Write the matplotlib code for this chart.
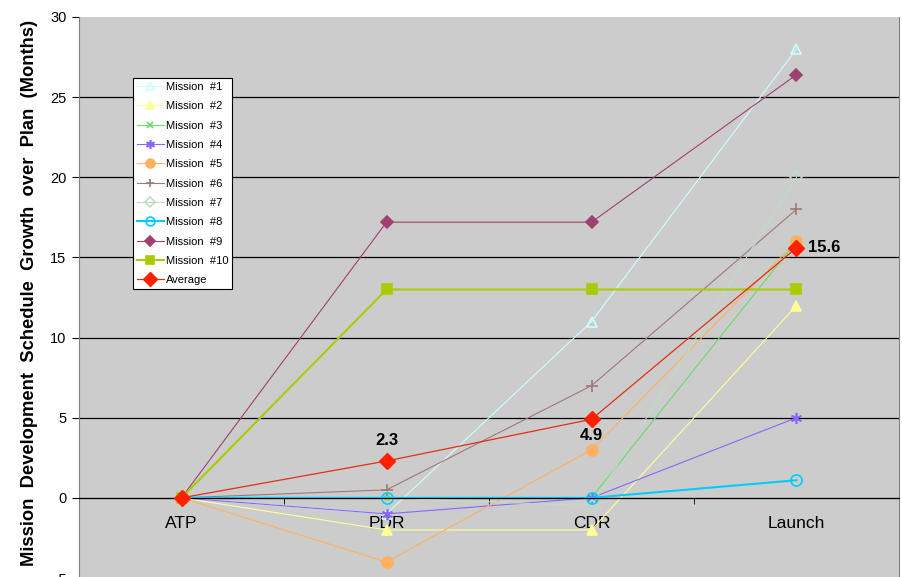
import matplotlib.pyplot as plt
import numpy as np

plt.rcParams['font.family'] = ['Liberation Sans', 'DejaVu Sans']

# categories and series values (months of schedule growth)
milestones = ['ATP', 'PDR', 'CDR', 'Launch']
m1 = [0, -1, 11, 28]
m2 = [0, -2, -2, 12]
m3 = [0, 0, 0, 16]
m4 = [0, -1, 0, 5]
m5 = [0, -4, 3, 16]
m6 = [0, 0.5, 7, 18]
m7 = [0, 0, -0.5, 20]
m8 = [0, 0, 0, 1.1]
m9 = [0, 17.2, 17.2, 26.4]
m10 = [0, 13, 13, 13]
average = [0, 2.3, 4.9, 15.6]
y_ticks = [-5, 0, 5, 10, 15, 20, 25, 30]

fig = plt.figure(figsize=(9.02, 5.77), dpi=100)
ax = fig.add_axes([79 / 902, -1 / 577, 820 / 902, 561 / 577])
ax.set_facecolor('#CCCCCC')

x = np.arange(len(milestones))

# (values, label, color, marker, markersize, filled, linewidth)
series = [
    (m1, 'Mission  #1', '#CCFFFF', '^', 7, False, 0.8),
    (m2, 'Mission  #2', '#FFFF99', '^', 7, True, 0.8),
    (m3, 'Mission  #3', '#66DD66', 'x', 6, True, 0.8),
    (m4, 'Mission  #4', '#8866FF', (6, 2, 0), 8, True, 0.8),
    (m5, 'Mission  #5', '#FFB060', 'o', 8, True, 0.8),
    (m6, 'Mission  #6', '#A07878', '+', 8, True, 0.8),
    (m7, 'Mission  #7', '#C0DCC0', 'D', 6, False, 0.8),
    (m8, 'Mission  #8', '#00CCFF', 'o', 8, False, 1.5),
    (m9, 'Mission  #9', '#A04070', 'D', 6, True, 0.8),
    (m10, 'Mission  #10', '#A8CC00', 's', 7, True, 1.5),
]

# horizontal grid lines (none on the top edge)
for yv in y_ticks[1:-1]:
    ax.axhline(yv, color='black', linewidth=0.9, zorder=0.5)

for vals, lab, col, mk, ms, filled, lw in series:
    ax.plot(x, vals, color=col, marker=mk, markersize=ms, linewidth=lw,
            markerfacecolor=col if filled else 'none', markeredgecolor=col,
            markeredgewidth=1.2, label=lab, clip_on=False)

ax.plot(x, average, color='#E03010', marker='D', markersize=8.5,
        markerfacecolor='#FF2000', markeredgecolor='#FF2000', linewidth=0.9,
        label='Average', zorder=5, clip_on=False)

# labels on the average points
ax.annotate(f'{average[1]}', xy=(1, average[1]), xytext=(0, 9), textcoords='offset points',
            ha='center', va='bottom', fontsize=12, fontweight='bold')
ax.annotate(f'{average[2]}', xy=(2, average[2]), xytext=(0, -6), textcoords='offset points',
            ha='center', va='top', fontsize=12, fontweight='bold')
ax.annotate(f'{average[3]}', xy=(3, average[3]), xytext=(8, 0), textcoords='offset points',
            ha='left', va='center', fontsize=12, fontweight='bold')

ax.set_xlim(-0.5, 3.5)
ax.set_ylim(-5, 30)
ax.set_yticks(y_ticks)
ax.tick_params(axis='y', direction='out', length=5, labelsize=10.5, pad=4)

ax.set_xticks(x)
ax.set_xticklabels(milestones)
ax.set_xticks([0.5, 1.5, 2.5, 3.5], minor=True)
ax.tick_params(axis='x', which='major', length=0, pad=13, labelsize=12.5)
ax.tick_params(axis='x', which='minor', direction='out', length=4)

ax.spines['bottom'].set_position(('data', 0))
ax.spines['bottom'].set_color('black')
ax.spines['left'].set_color('#808080')
ax.spines['right'].set_color('#808080')
ax.spines['top'].set_visible(False)

fig.text(30 / 902, 1 - 293 / 577, 'Mission  Development  Schedule  Growth  over  Plan  (Months)',
         rotation=90, ha='center', va='center', fontsize=13.2, fontweight='bold')

leg = ax.legend(loc='upper left', bbox_to_anchor=(133 / 902, 1 - 78 / 577),
                bbox_transform=fig.transFigure, fontsize=8, frameon=True,
                fancybox=False, framealpha=1, edgecolor='black',
                handlelength=2.4, labelspacing=0.84, borderpad=0.35,
                handletextpad=0.2, borderaxespad=0, markerscale=0.8)
leg.get_frame().set_linewidth(0.8)

fig.savefig('out.png', dpi=100, facecolor='white')
